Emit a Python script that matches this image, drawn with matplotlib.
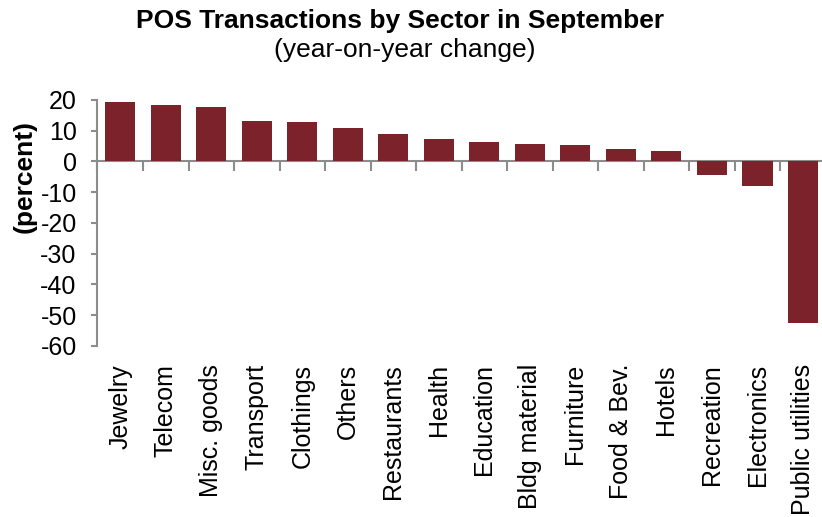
import numpy as np
import matplotlib.pyplot as plt

plt.rcParams['font.family'] = ['Liberation Sans', 'DejaVu Sans']
plt.rcParams['axes.unicode_minus'] = False

sectors = ['Jewelry', 'Telecom', 'Misc. goods', 'Transport', 'Clothings', 'Others',
           'Restaurants', 'Health', 'Education', 'Bldg material', 'Furniture',
           'Food & Bev.', 'Hotels', 'Recreation', 'Electronics', 'Public utilities']
yoy_change = [19.2, 18.2, 17.6, 13.0, 12.8, 10.8, 8.8, 7.2, 6.4, 5.5, 5.2,
              3.9, 3.4, -4.6, -8.0, -52.5]

bar_color = '#7B222A'
axis_grey = '#8C8C8C'

fig = plt.figure(figsize=(8.22, 5.17), dpi=100)
ax = fig.add_axes([0.1186, 0.331, 0.886, 0.476])

x = np.arange(len(sectors))
ax.bar(x, yoy_change, width=0.66, color=bar_color, zorder=3)

ax.set_xlim(-0.5, len(sectors) - 0.5)
ax.set_ylim(-60, 20)
ax.set_yticks(range(-60, 21, 10))
ax.tick_params(axis='y', labelsize=18, length=4, width=1.5, color=axis_grey, pad=11)

# category labels at the bottom, no tick marks there
ax.set_xticks(x)
ax.set_xticklabels(sectors, rotation=90, fontsize=18)
ax.tick_params(axis='x', length=0, pad=13)

for side in ['top', 'right', 'bottom']:
    ax.spines[side].set_visible(False)
ax.spines['left'].set_color(axis_grey)
ax.spines['left'].set_linewidth(1.5)

# zero line with separator ticks between categories
zero_pos = (0 - (-60)) / 80
sec = ax.secondary_xaxis(zero_pos)
sec.set_xticks(np.arange(len(sectors)) - 0.5)
sec.set_xticklabels([])
sec.tick_params(axis='x', length=7, width=1.5, color=axis_grey, direction='in')
sec.spines['bottom'].set_visible(False)
sec.spines['top'].set_color(axis_grey)
sec.spines['top'].set_linewidth(1.5)

fig.text(0.030, 0.658, '(percent)', rotation=90, fontsize=19, fontweight='bold',
         ha='center', va='center')

fig.text(0.487, 0.945, 'POS Transactions by Sector in September', fontsize=19,
         fontweight='bold', ha='center', va='baseline')
fig.text(0.492, 0.890, '(year-on-year change)', fontsize=19, ha='center', va='baseline')

fig.savefig('out.png', dpi=100)
